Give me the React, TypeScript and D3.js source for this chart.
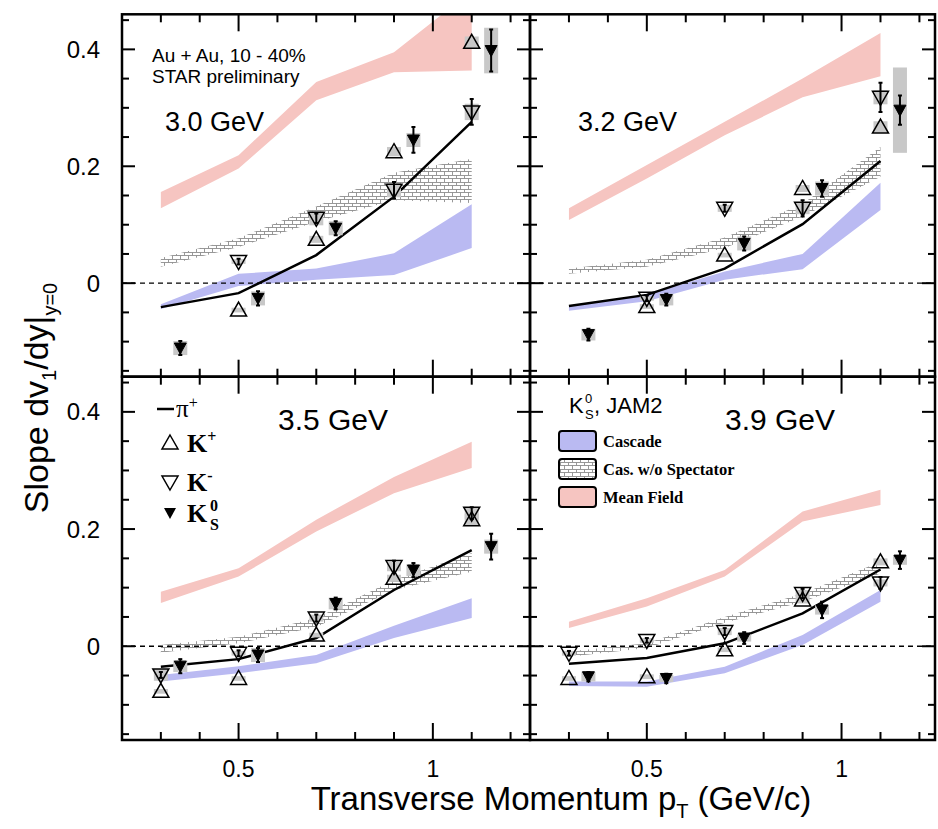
import React from 'react';
import * as d3 from 'd3';

// ---------- data ----------
const PT = [0.3, 0.5, 0.7, 0.9, 1.1];
const PT_K0S = [0.35, 0.55, 0.75, 0.95, 1.15];
const ENERGY_LABELS = ['3.0 GeV', '3.2 GeV', '3.5 GeV', '3.9 GeV'];
const X_TICKS = [0.5, 1];
const X_TICK_LABELS = ['0.5', '1'];
const Y_TICKS = [0, 0.2, 0.4];
const Y_TICK_LABELS = ['0', '0.2', '0.4'];

// pi+ (solid line)
const PI_PLUS = [
  [-0.041, -0.017, 0.048, 0.148, 0.276],
  [-0.039, -0.020, 0.025, 0.101, 0.209],
  [-0.035, -0.022, 0.014, 0.096, 0.164],
  [-0.030, -0.020, 0.005, 0.056, 0.131],
];
// JAM2 Mean Field band
const MF_HI = [
  [0.156, 0.219, 0.344, 0.395, 0.50],
  [0.128, 0.202, 0.276, 0.350, 0.428],
  [0.093, 0.133, 0.216, 0.289, 0.349],
  [0.042, 0.082, 0.130, 0.230, 0.267],
];
const MF_LO = [
  [0.128, 0.196, 0.313, 0.361, 0.364],
  [0.108, 0.179, 0.253, 0.318, 0.354],
  [0.074, 0.119, 0.196, 0.261, 0.304],
  [0.031, 0.068, 0.119, 0.213, 0.241],
];
// JAM2 Cascade band
const CAS_HI = [
  [-0.036, 0.016, 0.025, 0.051, 0.135],
  [-0.039, -0.020, 0.020, 0.050, 0.172],
  [-0.049, -0.034, -0.015, 0.035, 0.082],
  [-0.060, -0.060, -0.035, 0.019, 0.096],
];
const CAS_LO = [
  [-0.044, -0.005, 0.006, 0.014, 0.060],
  [-0.047, -0.031, 0.006, 0.024, 0.125],
  [-0.060, -0.046, -0.029, 0.014, 0.048],
  [-0.068, -0.069, -0.046, 0.002, 0.076],
];
// JAM2 Cascade w/o spectator band
const NOSPEC_HI = [
  [0.043, 0.077, 0.131, 0.189, 0.213],
  [0.025, 0.040, 0.078, 0.136, 0.233],
  [0.002, 0.016, 0.048, 0.113, 0.159],
  [-0.009, 0.005, 0.050, 0.090, 0.144],
];
const NOSPEC_LO = [
  [0.028, 0.062, 0.105, 0.142, 0.137],
  [0.016, 0.028, 0.060, 0.114, 0.182],
  [-0.011, 0.005, 0.033, 0.096, 0.127],
  [-0.018, -0.003, 0.040, 0.076, 0.124],
];
// K+ (open up triangle)
const K_PLUS = [
  [null, -0.046, 0.075, 0.225, 0.412],
  [null, -0.040, 0.048, 0.162, 0.267],
  [-0.077, -0.055, 0.019, 0.116, 0.216],
  [-0.055, -0.052, -0.006, 0.079, 0.144],
];
const K_PLUS_SYS = [
  [0, 0.004, 0.006, 0.008, 0.01],
  [0, 0.004, 0.004, 0.006, 0.01],
  [0.004, 0.004, 0.004, 0.006, 0.01],
  [0.004, 0.004, 0.004, 0.006, 0.006],
];
// K- (open down triangle)
const K_MINUS = [
  [null, 0.037, 0.111, 0.159, 0.293],
  [null, -0.026, 0.128, 0.128, 0.318],
  [-0.049, -0.012, 0.048, 0.136, 0.227],
  [-0.012, 0.010, 0.025, 0.090, 0.108],
];
const K_MINUS_STAT = [
  [0, 0.005, 0.008, 0.014, 0.022],
  [0, 0.005, 0.006, 0.014, 0.025],
  [0.005, 0.005, 0.006, 0.01, 0.01],
  [0.004, 0.004, 0.006, 0.008, 0.01],
];
const K_MINUS_SYS = [
  [0, 0.004, 0.012, 0.012, 0.014],
  [0, 0.004, 0.006, 0.01, 0.012],
  [0.01, 0.004, 0.006, 0.008, 0.01],
  [0.004, 0.004, 0.006, 0.006, 0.006],
];
// K0S (filled down triangle)
const K0S = [
  [-0.111, -0.026, 0.094, 0.245, 0.398],
  [-0.088, -0.028, 0.068, 0.162, 0.296],
  [-0.034, -0.015, 0.073, 0.130, 0.170],
  [-0.052, -0.055, 0.014, 0.062, 0.147],
];
const K0S_STAT = [
  [0.012, 0.012, 0.012, 0.022, 0.036],
  [0.01, 0.01, 0.012, 0.014, 0.025],
  [0.012, 0.012, 0.01, 0.012, 0.022],
  [0.008, 0.008, 0.01, 0.014, 0.015],
];
const K0S_SYS = [
  [0.012, 0.012, 0.012, 0.012, 0.039],
  [0.01, 0.01, 0.012, 0.012, 0.073],
  [0.01, 0.012, 0.01, 0.01, 0.012],
  [0.008, 0.006, 0.006, 0.008, 0.008],
];

// ---------- layout ----------
const LAYOUT = [
  { left: 122, right: 530, top: 14.3, bottom: 376.7, xMax: 1.25, xl: false, yl: true },
  { left: 530, right: 935, top: 14.3, bottom: 376.7, xMax: 1.24, xl: false, yl: false },
  { left: 122, right: 530, top: 376.7, bottom: 740, xMax: 1.25, xl: true, yl: true },
  { left: 530, right: 935, top: 376.7, bottom: 740, xMax: 1.24, xl: true, yl: false },
];
const LABEL_POS = [
  { x: 165, y: 131, size: 27 },
  { x: 578, y: 131, size: 27 },
  { x: 278, y: 430, size: 30 },
  { x: 725, y: 430, size: 30 },
];
const SANS = '"Liberation Sans", Arial, Helvetica, sans-serif';
const SERIF = '"Liberation Serif", "Times New Roman", serif';
const RED = '#f6c5c1';
const BLUE = '#babaf2';
const SYS_GRAY = '#c8c8c8';

const upTri = (cx: number, cy: number) => `M${cx},${cy - 8}L${cx + 8},${cy + 6}L${cx - 8},${cy + 6}Z`;
const downTri = (cx: number, cy: number) => `M${cx},${cy + 8}L${cx + 8},${cy - 6}L${cx - 8},${cy - 6}Z`;
const smallDown = (cx: number, cy: number) => `M${cx},${cy + 6}L${cx + 6},${cy - 5}L${cx - 6},${cy - 5}Z`;

function Panel({ idx }: { idx: number }) {
  const L = LAYOUT[idx];
  const x = d3.scaleLinear().domain([0.2, L.xMax]).range([L.left, L.right]);
  const y = d3.scaleLinear().domain([-0.16, 0.46]).range([L.bottom, L.top]);
  const band = (lo: number[], hi: number[]) =>
    d3.area<number>()
      .x((_, i) => x(PT[i]))
      .y0((_, i) => y(lo[i]))
      .y1((_, i) => y(hi[i]))(PT) || '';
  const line = d3.line<number>().x((_, i) => x(PT[i])).y((d) => y(d))(PI_PLUS[idx]) || '';
  const clipId = `clip${idx}`;
  const yMinor = d3.range(-0.15, 0.451, 0.05).map((v) => Math.round(v * 100) / 100);
  const xMinor = d3.range(0.3, 1.21, 0.1).map((v) => Math.round(v * 10) / 10).filter((v) => v < L.xMax);
  const isMajorY = (v: number) => Y_TICKS.some((t) => Math.abs(t - v) < 1e-6);
  const isMajorX = (v: number) => X_TICKS.some((t) => Math.abs(t - v) < 1e-6);
  const lab = LABEL_POS[idx];

  const sysBox = (cx: number, v: number, s: number, key: string) =>
    s > 0 ? (
      <rect key={key} x={cx - 7} width={14} y={y(v + s)} height={y(v - s) - y(v + s)} fill={SYS_GRAY} />
    ) : null;
  const errBar = (cx: number, v: number, s: number, key: string) =>
    s > 0 ? (
      <g key={key} stroke="#000" strokeWidth={2}>
        <line x1={cx} x2={cx} y1={y(v + s)} y2={y(v - s)} />
        <line x1={cx - 2} x2={cx + 2} y1={y(v + s)} y2={y(v + s)} />
        <line x1={cx - 2} x2={cx + 2} y1={y(v - s)} y2={y(v - s)} />
      </g>
    ) : null;

  return (
    <g>
      <defs>
        <clipPath id={clipId}>
          <rect x={L.left} y={L.top} width={L.right - L.left} height={L.bottom - L.top} />
        </clipPath>
      </defs>
      <g clipPath={`url(#${clipId})`}>
        <path d={band(MF_LO[idx], MF_HI[idx])} fill={RED} />
        <path d={band(CAS_LO[idx], CAS_HI[idx])} fill={BLUE} />
        <path d={band(NOSPEC_LO[idx], NOSPEC_HI[idx])} fill="url(#hatch)" />
        <line x1={L.left} x2={L.right} y1={y(0)} y2={y(0)} stroke="#000" strokeWidth={1.3} strokeDasharray="5,4" />
        <path d={line} fill="none" stroke="#000" strokeWidth={2.5} />
        {K_MINUS[idx].map((v, i) => (v == null ? null : sysBox(x(PT[i]), v, K_MINUS_SYS[idx][i], `ms${i}`)))}
        {K_PLUS[idx].map((v, i) => (v == null ? null : sysBox(x(PT[i]), v, K_PLUS_SYS[idx][i], `ps${i}`)))}
        {K0S[idx].map((v, i) => sysBox(x(PT_K0S[i]), v, K0S_SYS[idx][i], `ks${i}`))}
        {K_MINUS[idx].map((v, i) => (v == null ? null : errBar(x(PT[i]), v, K_MINUS_STAT[idx][i], `me${i}`)))}
        {K0S[idx].map((v, i) => errBar(x(PT_K0S[i]), v, K0S_STAT[idx][i], `ke${i}`))}
        {K_PLUS[idx].map((v, i) =>
          v == null ? null : <path key={`p${i}`} d={upTri(x(PT[i]), y(v))} fill="none" stroke="#000" strokeWidth={1.5} />
        )}
        {K_MINUS[idx].map((v, i) =>
          v == null ? null : <path key={`m${i}`} d={downTri(x(PT[i]), y(v))} fill="none" stroke="#000" strokeWidth={1.5} />
        )}
        {K0S[idx].map((v, i) => (
          <path key={`k${i}`} d={smallDown(x(PT_K0S[i]), y(v))} fill="#000" stroke="#000" strokeWidth={1} />
        ))}
      </g>
      <g stroke="#000" strokeWidth={2}>
        {yMinor.map((v) => {
          const len = isMajorY(v) ? 13 : 7;
          return (
            <g key={`yt${v}`}>
              <line x1={L.left} x2={L.left + len} y1={y(v)} y2={y(v)} />
              <line x1={L.right} x2={L.right - len} y1={y(v)} y2={y(v)} />
            </g>
          );
        })}
        {xMinor.map((v) => {
          const len = isMajorX(v) ? 17 : 8;
          return (
            <g key={`xt${v}`}>
              <line x1={x(v)} x2={x(v)} y1={L.bottom} y2={L.bottom - len} />
              <line x1={x(v)} x2={x(v)} y1={L.top} y2={L.top + len} />
            </g>
          );
        })}
      </g>
      <rect x={L.left} y={L.top} width={L.right - L.left} height={L.bottom - L.top} fill="none" stroke="#000" strokeWidth={2.5} />
      {L.yl &&
        Y_TICKS.map((t, i) => (
          <text key={`yl${i}`} x={100} y={y(t)} dy="0.36em" textAnchor="end" fontFamily={SANS} fontSize={24}>
            {Y_TICK_LABELS[i]}
          </text>
        ))}
      {L.xl &&
        X_TICKS.map((t, i) => (
          <text key={`xl${i}`} x={x(t)} y={777} textAnchor="middle" fontFamily={SANS} fontSize={23}>
            {X_TICK_LABELS[i]}
          </text>
        ))}
      <text x={lab.x} y={lab.y} fontFamily={SANS} fontSize={lab.size}>
        {ENERGY_LABELS[idx]}
      </text>
    </g>
  );
}

export default function App() {
  return (
    <svg width={938} height={829} style={{ position: 'absolute', left: 0, top: 0, background: '#fff' }}>
      <defs>
        <pattern id="hatch" width={8} height={7} patternUnits="userSpaceOnUse">
          <rect width={8} height={7} fill="#fff" />
          <path d="M0,0.5H8M0,3.5H8M0.5,0.5V3.5M4.5,3.5V7" stroke="#8c8c8c" strokeWidth={0.9} fill="none" />
        </pattern>
      </defs>
      <rect width={938} height={829} fill="#fff" />
      {[0, 1, 2, 3].map((i) => (
        <Panel key={i} idx={i} />
      ))}

      <text x={152} y={62} fontFamily={SANS} fontSize={19}>Au + Au, 10 - 40%</text>
      <text x={152} y={83} fontFamily={SANS} fontSize={19}>STAR preliminary</text>

      <line x1={157} x2={174} y1={409} y2={409} stroke="#000" strokeWidth={2.5} />
      <text x={176} y={417} fontFamily={SERIF} fontSize={25}>
        π<tspan dy={-9} fontSize={16}>+</tspan>
      </text>
      <path d={upTri(170, 443)} fill="none" stroke="#000" strokeWidth={1.5} />
      <text x={187} y={452} fontFamily={SERIF} fontSize={26} fontWeight="bold">
        K<tspan dy={-10} fontSize={16}>+</tspan>
      </text>
      <path d={downTri(170, 482)} fill="none" stroke="#000" strokeWidth={1.5} />
      <text x={187} y={491} fontFamily={SERIF} fontSize={26} fontWeight="bold">
        K<tspan dy={-10} fontSize={16}>-</tspan>
      </text>
      <path d={smallDown(170, 513)} fill="#000" />
      <text x={187} y={522} fontFamily={SERIF} fontSize={26} fontWeight="bold">K</text>
      <text x={210} y={511} fontFamily={SERIF} fontSize={16} fontWeight="bold">0</text>
      <text x={210} y={530} fontFamily={SERIF} fontSize={16} fontWeight="bold">S</text>

      <text x={569} y={413} fontFamily={SANS} fontSize={22}>K</text>
      <text x={585} y={403} fontFamily={SANS} fontSize={13}>0</text>
      <text x={585} y={419} fontFamily={SANS} fontSize={13}>S</text>
      <text x={594} y={413} fontFamily={SANS} fontSize={22}>, JAM2</text>
      <rect x={559} y={431} width={37} height={20} rx={3} fill={BLUE} stroke="#000" strokeWidth={2} />
      <rect x={559} y={459} width={37} height={20} rx={3} fill="url(#hatch)" stroke="#000" strokeWidth={2} />
      <rect x={559} y={487} width={37} height={20} rx={3} fill={RED} stroke="#000" strokeWidth={2} />
      <text x={603} y={447} fontFamily={SERIF} fontSize={16.5} fontWeight="bold">Cascade</text>
      <text x={603} y={475} fontFamily={SERIF} fontSize={16.5} fontWeight="bold">Cas. w/o Spectator</text>
      <text x={603} y={503} fontFamily={SERIF} fontSize={16.5} fontWeight="bold">Mean Field</text>

      <text x={561} y={810} textAnchor="middle" fontFamily={SANS} fontSize={33}>
        Transverse Momentum p<tspan dy={8} fontSize={20}>T</tspan>
        <tspan dy={-8}> (GeV/c)</tspan>
      </text>
      <text transform="translate(48,398) rotate(-90)" textAnchor="middle" fontFamily={SANS} fontSize={34}>
        Slope dv<tspan dy={8} fontSize={20}>1</tspan>
        <tspan dy={-8}>/dy|</tspan>
        <tspan dy={9} fontSize={20}>y=0</tspan>
      </text>
    </svg>
  );
}
